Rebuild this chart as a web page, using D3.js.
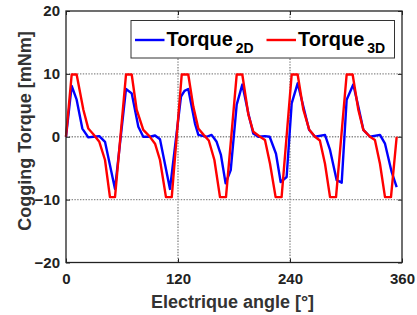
<!DOCTYPE html>
<html><head><meta charset="utf-8">
<script src="https://cdn.jsdelivr.net/npm/d3@7"></script>
<style>html,body{margin:0;padding:0;background:#fff;}svg{display:block;font-family:"Liberation Sans",Arial,sans-serif;font-weight:bold;}</style>
</head><body>
<svg id="c" width="417" height="315"></svg>
<script>
const angle3D = [0,6.1,11.4,18.6,23.9,29.3,35.7,41.8,47.1,52.5,
  64.3,70.4,75.7,82.8,89.3,95.4,100.7,107.1,113.3,
  124,131,136.4,141.8,147.5,153,159,165,171.4,
  182.9,188.9,195.4,200.7,207.9,213.2,218.6,224.6,231,
  241.8,248.2,254.3,260.7,266.8,272,277.5,282.9,289.3,
  300.7,307.1,313.2,318.6,325.7,331,336.4,341.8,348.2,354.3];
const torque3D = [0,9.9,9.9,4.3,1.3,0.4,-0.8,-3.7,-9.6,-9.6,
  9.9,9.9,4.3,1.1,0.1,-1.1,-3.7,-9.6,-9.6,
  9.9,9.9,4.8,1.3,0.3,-0.6,-3.7,-9.6,-9.6,
  9.9,9.9,3.5,0.8,0,-0.5,-4.3,-9.6,-9.6,
  9.9,9.9,4.3,1.1,0,-0.6,-4.3,-9.6,-9.6,
  9.9,9.9,4.3,1.1,0,-0.5,-4.3,-9.6,-9.6,0];
const angle2D = [0,6.1,11.4,17.5,23.9,29.3,35.7,41.8,52.5,
  64.3,70.4,77.5,82.8,90,95.4,100.7,111.4,
  123.2,127,131,138.2,141.8,150.7,156,161.4,166,171,176.5,
  182.9,188.9,195.4,200.7,206,213.2,218.2,225,230,236.4,
  241.8,248.2,254.3,260.4,266.8,277.5,282.9,290,295.4,
  300.7,307.8,313.2,318.6,325.7,336.4,341.8,348.9,354.3];
const torque2D = [0,8.1,5.9,1.3,-0.1,0,0.1,-0.8,-8.3,
  7.6,6.9,1.6,0,0,0.2,-0.4,-8.3,
  6.4,7.3,7.6,2.1,0.3,0,0.3,-0.8,-2.9,-7.4,-5.3,
  5.1,8.3,3.7,0.5,0,0.1,0,-2.7,-7.2,-6.4,
  5.3,8.5,4.8,1.1,0,0.3,-2.1,-6.9,-7.3,
  5.9,8.3,4.8,1.1,0,0.3,-1.1,-5.6,-8];
const xTicks = [0,120,240,360];
const yTicks = [-20,-10,0,10,20];
const seriesNames = ["Torque","Torque"];
const seriesSubs = ["2D","3D"];
const seriesColors = ["#0000ff","#ff0000"];

const svg = d3.select("#c");
const L=66, R=402, T=11, B=262.5;
const x = d3.scaleLinear().domain([0,360]).range([L,R]);
const y = d3.scaleLinear().domain([-20,20]).range([B,T]);

// grid
const grid = svg.append("g");
[120,240].forEach(v=>grid.append("line").attr("x1",x(v)).attr("x2",x(v)).attr("y1",T).attr("y2",B));
[-10,0,10].forEach(v=>grid.append("line").attr("x1",L).attr("x2",R).attr("y1",y(v)).attr("y2",y(v)));
grid.selectAll("line").attr("stroke","#8a8a8a").attr("stroke-width",1.4).attr("stroke-dasharray","1.4,1.4");

// axes
const xa = svg.append("g").attr("transform",`translate(0,${B})`).call(d3.axisBottom(x).tickValues(xTicks).tickSizeInner(-4).tickSizeOuter(0).tickPadding(8));
const ya = svg.append("g").attr("transform",`translate(${L},0)`).call(d3.axisLeft(y).tickValues(yTicks).tickSizeInner(-4).tickSizeOuter(0).tickPadding(6));
[xa,ya].forEach(a=>{a.select(".domain").remove();a.selectAll("line").attr("stroke","#222");a.selectAll("text").attr("font-size",15).attr("font-weight","bold").attr("fill","#222").attr("font-family","Liberation Sans, Arial, sans-serif");});
xa.selectAll("text").attr("dy","0.9em");
// top/right ticks
svg.append("g").attr("transform",`translate(0,${T})`).call(d3.axisTop(x).tickValues(xTicks).tickSizeInner(-4).tickSizeOuter(0).tickFormat("")).call(g=>{g.select(".domain").remove();g.selectAll("line").attr("stroke","#222");});
svg.append("g").attr("transform",`translate(${R},0)`).call(d3.axisRight(y).tickValues(yTicks).tickSizeInner(-4).tickSizeOuter(0).tickFormat("")).call(g=>{g.select(".domain").remove();g.selectAll("line").attr("stroke","#222");});

// data lines
const line = d3.line().x(d=>x(d[0])).y(d=>y(d[1]));
const d2 = angle2D.map((a,i)=>[a,torque2D[i]]);
const d3d = angle3D.map((a,i)=>[a,torque3D[i]]);
svg.append("path").datum(d2).attr("d",line).attr("fill","none").attr("stroke",seriesColors[0]).attr("stroke-width",2.4).attr("stroke-linejoin","round");
svg.append("path").datum(d3d).attr("d",line).attr("fill","none").attr("stroke",seriesColors[1]).attr("stroke-width",2.4).attr("stroke-linejoin","round");

// box
svg.append("rect").attr("x",L).attr("y",T).attr("width",R-L).attr("height",B-T).attr("fill","none").attr("stroke","#222").attr("stroke-width",1.3);

// legend
const lg = svg.append("g");
lg.append("rect").attr("x",131).attr("y",20.5).attr("width",263.5).attr("height",37.5).attr("fill","#fff").attr("stroke","#333").attr("stroke-width",1);
const lx = [135,266.5];
seriesNames.forEach((n,i)=>{
  lg.append("line").attr("x1",lx[i]).attr("x2",lx[i]+29.5).attr("y1",40).attr("y2",40).attr("stroke",seriesColors[i]).attr("stroke-width",2.4);
  const t = lg.append("text").attr("x",lx[i]+31.5).attr("y",45.7).attr("font-size",20).attr("font-weight","bold").attr("fill","#000");
  t.append("tspan").text(n);
  t.append("tspan").attr("dx",3).attr("dy",7.6).attr("font-size",14).text(seriesSubs[i]);
});

// axis labels
svg.append("text").attr("x",232.5).attr("y",308).attr("text-anchor","middle").attr("font-size",18).attr("font-weight","bold").attr("fill","#333").text("Electrique angle [°]");
svg.append("text").attr("transform","translate(31,131) rotate(-90)").attr("text-anchor","middle").attr("font-size",18).attr("font-weight","bold").attr("fill","#333").text("Cogging Torque [mNm]");
</script>
</body></html>
